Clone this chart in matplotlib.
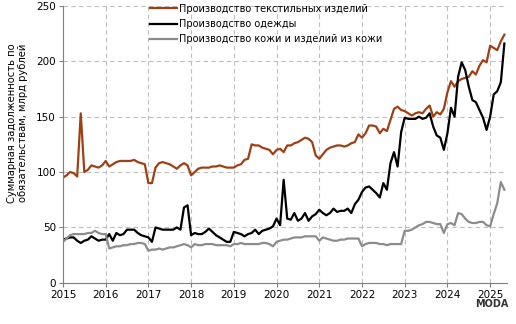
import matplotlib.pyplot as plt
import numpy as np

# monthly values, Jan 2015 .. May 2025, bln rub
textile = [95, 97, 100, 99, 96, 153, 100, 102, 106, 105, 104, 106,
           110, 105, 107, 109, 110, 110, 110, 110, 111, 109, 108, 107,
           90, 90, 104, 108, 109, 108, 107, 105, 103, 106, 108, 106,
           97, 100, 103, 104, 104, 104, 105, 105, 106, 105, 104, 104,
           104, 106, 107, 111, 112, 125, 124, 124, 122, 121, 120, 116,
           120, 121, 118, 124, 124, 126, 127, 129, 131, 130, 127, 115,
           112, 116, 120, 122, 123, 124, 124, 123, 124, 126, 127, 134,
           131, 135, 142, 142, 141, 135, 139, 137, 147, 157, 159, 156,
           155, 153, 151, 153, 154, 153, 157, 160, 150, 154, 152, 157,
           172, 182, 177, 182, 184, 185, 186, 191, 188, 196, 201, 199,
           214, 212, 210, 218, 224]

clothing = [39, 40, 41, 41, 38, 36, 38, 39, 42, 40, 38, 39,
            39, 44, 38, 45, 43, 44, 48, 48, 48, 45, 43, 42,
            41, 37, 50, 49, 48, 48, 48, 48, 50, 48, 68, 70,
            43, 45, 44, 44, 46, 49, 46, 43, 41, 39, 37, 37,
            46, 45, 44, 42, 44, 45, 48, 44, 47, 48, 49, 51,
            58, 52, 93, 58, 57, 63, 56, 58, 63, 56, 60, 62,
            66, 63, 61, 63, 67, 64, 65, 65, 67, 63, 71, 75,
            82, 86, 87, 84, 81, 77, 90, 84, 108, 118, 105, 136,
            149, 148, 148, 148, 150, 148, 149, 153, 141, 133, 131, 120,
            135, 158, 150, 186, 199, 192, 177, 165, 163, 156, 149, 138,
            150, 170, 173, 181, 216]

leather = [37, 40, 43, 44, 44, 44, 44, 45, 45, 47, 45, 44,
           44, 31, 32, 33, 33, 34, 34, 35, 35, 36, 36, 35,
           29, 30, 30, 31, 30, 31, 32, 32, 33, 34, 35, 34,
           32, 35, 34, 34, 35, 35, 35, 34, 34, 34, 34, 33,
           35, 35, 36, 35, 35, 35, 35, 35, 36, 36, 35, 33,
           37, 38, 39, 39, 40, 41, 41, 41, 42, 42, 42, 42,
           38, 41, 40, 39, 38, 38, 39, 39, 40, 40, 40, 40,
           33, 35, 36, 36, 36, 35, 35, 34, 35, 35, 35, 35,
           47, 47, 48, 50, 52, 53, 55, 55, 54, 53, 53, 45,
           53, 54, 52, 63, 62, 58, 55, 54, 54, 55, 55, 52,
           51, 62, 72, 91, 84]

labels = ['Производство текстильных изделий',
          'Производство одежды',
          'Производство кожи и изделий из кожи']
colors = ['#9E4016', '#000000', '#8C8C8C']
years = list(range(2015, 2026))

x = 2015 + np.arange(len(textile)) / 12

fig = plt.figure(figsize=(5.16, 3.24), dpi=100)
ax = fig.add_axes([0.122, 0.127, 0.861, 0.855])

for vals, lab, col in zip([textile, clothing, leather], labels, colors):
    ax.plot(x, vals, color=col, lw=1.6, label=lab)

ax.set_xlim(2015, 2025.4)
ax.set_ylim(0, 250)
ax.set_xticks(years)
ax.set_yticks(range(0, 251, 50))
ax.tick_params(labelsize=7.5, length=3, color='#808080', pad=2)
ax.grid(True, ls=(0, (4, 3)), color='#BDBDBD', lw=0.8)
for s in ['top', 'right']:
    ax.spines[s].set_visible(False)
for s in ['left', 'bottom']:
    ax.spines[s].set_color('#808080')

# axis title sits higher than the axes centre in the original
fig.text(0.034, 0.62, 'Суммарная задолженность по\nобязательствам, млрд рублей',
         rotation=90, ha='center', va='center', fontsize=7.2, linespacing=1.15)

ax.legend(loc='upper left', bbox_to_anchor=(0.196, 1.008), frameon=False,
          fontsize=7, handlelength=2.8, handletextpad=0.2, labelspacing=0.55,
          borderpad=0, borderaxespad=0)

fig.text(0.985, 0.062, 'MODA', ha='right', va='center', fontsize=7,
         fontweight='bold', color='#333333')

fig.savefig('out.png', dpi=100)
